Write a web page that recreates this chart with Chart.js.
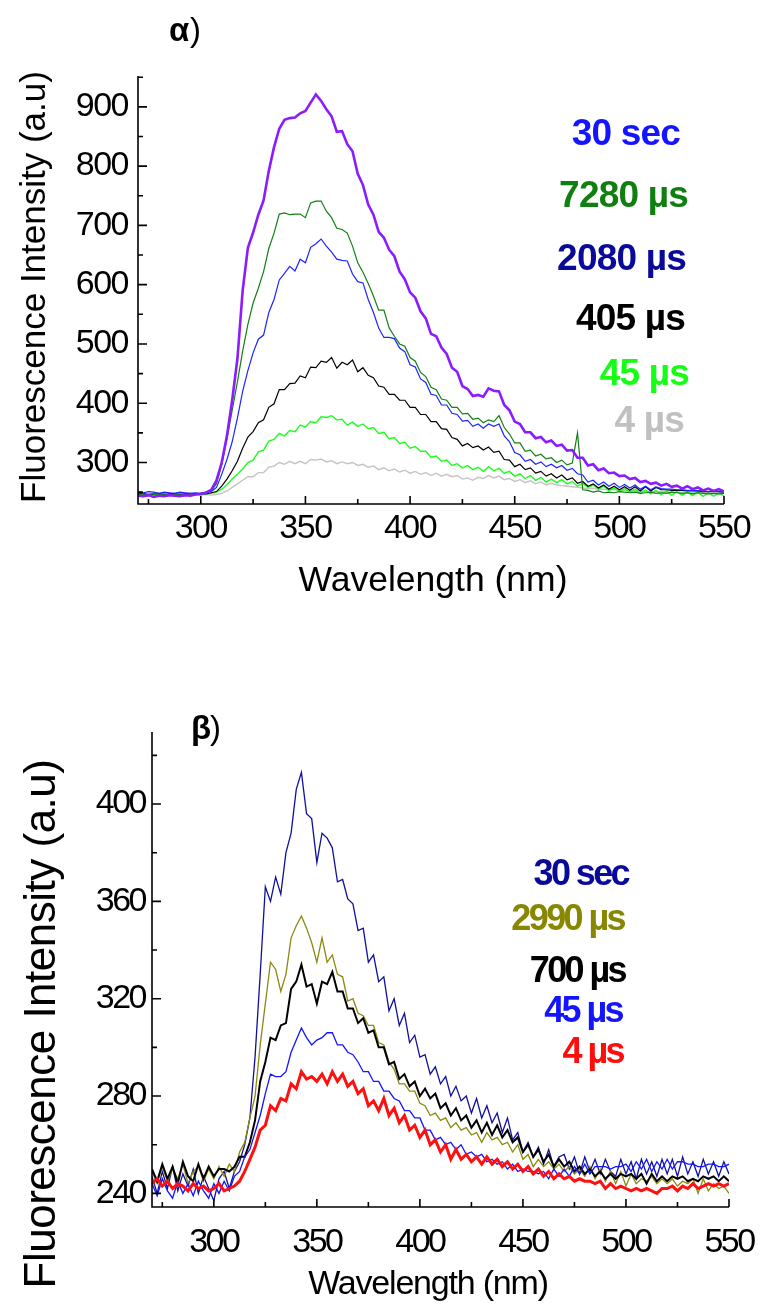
<!DOCTYPE html>
<html>
<head>
<meta charset="utf-8">
<script src="https://cdn.jsdelivr.net/npm/chart.js@4.4.1/dist/chart.umd.min.js"></script>
<style>
  html, body { margin: 0; padding: 0; background: #fff; }
  body { width: 760px; height: 1308px; position: relative; overflow: hidden; }
  .panel { position: absolute; left: 0; width: 760px; }
  #alpha { top: 0; height: 640px; }
  #beta { top: 640px; height: 668px; }
</style>
</head>
<body>
<div class="panel" id="alpha"><canvas id="chartA"></canvas></div>
<div class="panel" id="beta"><canvas id="chartB"></canvas></div>
<script>
const FONT = '"Liberation Sans", Arial, sans-serif';

// sampling grid of the spectra, nm (270 ... 550, 2.5 nm step)
const wavelengths = Array.from({length: 113}, (_, i) => 270 + i * 2.5);
const xTicks = [300, 350, 400, 450, 500, 550];
const xMinor = [275, 325, 375, 425, 475, 525];

// ---- panel α ----
const alphaLabels = ['30 sec', '7280 µs', '2080 µs', '405 µs', '45 µs', '4 µs'];
const alphaYTicks = [300, 400, 500, 600, 700, 800, 900];
const alphaYMinor = [250, 350, 450, 550, 650, 750, 850, 950];

const alpha30s = [
  244, 243, 245, 242, 244, 243, 245, 244, 243, 245,
  244, 246, 247, 249, 254, 270, 300, 345, 405, 475,
  590, 662, 688, 718, 742, 792, 832, 863, 878, 881,
  882, 889, 893, 907, 921, 910, 896, 884, 858, 859,
  837, 825, 787, 768, 735, 718, 689, 679, 659, 648,
  622, 609, 587, 578, 555, 543, 517, 513, 494, 483,
  460, 453, 429, 424, 412, 414, 411, 425, 421, 420,
  397, 388, 369, 365, 351, 351, 341, 343, 334, 337,
  328, 330, 320, 321, 308, 308, 295, 297, 287, 290,
  282, 283, 277, 278, 272, 274, 267, 269, 264, 266,
  261, 264, 259, 261, 256, 260, 255, 258, 253, 256,
  252, 255, 251
];
const alpha7280 = [
  246, 247, 245, 248, 246, 247, 245, 246, 247, 246,
  247, 246, 248, 249, 252, 264, 296, 340, 388, 436,
  488, 533, 569, 594, 622, 661, 687, 719, 721, 718,
  719, 719, 713, 738, 741, 741, 724, 713, 695, 693,
  687, 665, 637, 621, 602, 581, 557, 557, 527, 513,
  500, 496, 477, 471, 452, 445, 427, 423, 407, 405,
  393, 393, 382, 383, 373, 375, 367, 372, 369, 379,
  359, 348, 333, 333, 319, 321, 311, 314, 306, 308,
  300, 304, 296, 299, 350, 254, 253, 250, 252, 249,
  250, 249, 251, 250, 249, 250, 248, 249, 250, 248,
  249, 248, 250, 249, 248, 249, 247, 249, 248, 247,
  248, 247, 248
];
const alpha2080 = [
  250, 249, 251, 250, 248, 250, 249, 248, 250, 249,
  248, 249, 248, 250, 251, 258, 280, 305, 335, 375,
  420, 455, 485, 508, 515, 553, 575, 608, 619, 631,
  623, 643, 637, 663, 669, 677, 665, 655, 643, 641,
  640, 618, 605, 603, 575, 553, 527, 511, 511, 509,
  493, 487, 465, 461, 441, 435, 415, 413, 397, 397,
  383, 381, 370, 371, 361, 365, 358, 365, 361, 365,
  345, 335, 317, 313, 302, 305, 297, 301, 293, 297,
  291, 295, 287, 290, 281, 279, 267, 270, 262, 267,
  260, 265, 258, 263, 257, 262, 255, 260, 254, 259,
  256, 255, 255, 254, 254, 253, 253, 252, 252, 251,
  252, 251, 250
];
const alpha405 = [
  247, 248, 246, 247, 248, 246, 247, 248, 246, 247,
  248, 247, 248, 247, 249, 251, 260, 272, 286, 302,
  324, 343, 352, 367, 372, 393, 399, 423, 423, 433,
  434, 446, 443, 461, 460, 471, 469, 477, 459, 469,
  465, 473, 453, 460, 447, 443, 429, 427, 415, 415,
  405, 405, 393, 393, 381, 381, 369, 369, 357, 356,
  342, 339, 328, 332, 325, 328, 321, 326, 317, 319,
  305, 304, 293, 297, 288, 291, 282, 285, 277, 281,
  274, 279, 271, 274, 265, 268, 260, 264, 257, 262,
  255, 260, 254, 259, 253, 259, 252, 259, 252, 258,
  254, 254, 253, 253, 253, 252, 252, 252, 251, 251,
  251, 251, 250
];
const alpha45 = [
  246, 245, 247, 246, 245, 246, 247, 245, 246, 247,
  246, 247, 246, 247, 248, 250, 255, 262, 272, 280,
  289, 300, 304, 318, 321, 336, 339, 349, 345, 354,
  352, 363, 360, 369, 367, 377, 376, 379, 372, 373,
  363, 368, 361, 365, 357, 359, 349, 351, 340, 342,
  332, 334, 324, 327, 319, 319, 309, 311, 302, 304,
  295, 298, 291, 295, 288, 292, 285, 293, 286, 290,
  282, 285, 277, 281, 273, 278, 270, 275, 267, 272,
  266, 271, 264, 268, 260, 265, 258, 262, 255, 260,
  253, 257, 251, 256, 250, 255, 248, 254, 247, 253,
  246, 252, 245, 251, 245, 250, 244, 250, 243, 249,
  243, 248, 244
];
const alpha4 = [
  245, 246, 244, 245, 246, 244, 245, 246, 245, 244,
  245, 246, 245, 246, 245, 246, 248, 252, 258, 264,
  270, 276, 276, 283, 283, 292, 294, 300, 297, 302,
  298, 302, 298, 305, 304, 306, 301, 303, 298, 301,
  298, 300, 295, 297, 292, 294, 288, 291, 286, 289,
  284, 287, 282, 285, 280, 283, 278, 282, 277, 280,
  276, 278, 272, 274, 270, 275, 273, 278, 274, 277,
  271, 273, 268, 271, 266, 269, 264, 267, 262, 265,
  262, 261, 260, 259, 258, 257, 256, 256, 255, 255,
  254, 254, 253, 253, 252, 252, 252, 251, 251, 251,
  251, 250, 250, 250, 250, 249, 249, 249, 249, 248,
  248, 248, 248
];

// ---- panel β ----
const betaLabels = ['30 sec', '2990 µs', '700 µs', '45 µs', '4 µs'];
const betaYTicks = [240, 280, 320, 360, 400];
const betaYMinor = [260, 300, 340, 380, 420];

const beta30s = [
  247, 240, 249, 242, 251, 241, 248, 243, 250, 240,
  247, 242, 237, 246, 249, 242, 249, 253, 260, 271,
  296, 330, 366, 360, 370, 363, 380, 388, 406, 413,
  396, 394, 376, 388, 386, 382, 368, 369, 361, 359,
  348, 349, 335, 338, 327, 329, 315, 320, 309, 314,
  302, 305, 296, 297, 289, 292, 285, 288, 280, 284,
  278, 280, 273, 279, 271, 276, 269, 273, 265, 271,
  262, 265, 257, 261, 255, 259, 252, 258, 251, 255,
  256, 250, 255, 248, 255, 249, 254, 248, 254, 249,
  247, 254, 248, 253, 246, 254, 248, 253, 247, 254,
  248, 254, 247, 255, 248, 253, 247, 254, 248, 253,
  247, 253, 248
];
const beta2990 = [
  249, 244, 251, 245, 250, 246, 252, 244, 249, 251,
  245, 250, 246, 251, 247, 252, 249, 257, 261, 271,
  280, 301, 318, 335, 332, 323, 330, 345, 350, 354,
  349, 343, 335, 345, 335, 338, 330, 329, 319, 320,
  314, 313, 309, 309, 302, 301, 294, 291, 285, 285,
  282, 282, 277, 276, 272, 273, 270, 271, 267, 269,
  266, 267, 264, 265, 261, 265, 262, 263, 260, 261,
  257, 260, 254, 256, 251, 254, 251, 253, 250, 252,
  249, 251, 248, 250, 247, 251, 246, 250, 245, 249,
  244, 249, 243, 248, 244, 246, 245, 247, 244, 246,
  244, 246, 243, 245, 244, 246, 240, 246, 241, 244,
  242, 243, 240
];
const beta700 = [
  250, 245, 252, 246, 251, 244, 253, 247, 245, 252,
  246, 251, 247, 250, 250, 249, 251, 255, 255, 261,
  270, 286, 294, 304, 303, 309, 310, 324, 327, 334,
  325, 326, 318, 327, 326, 331, 323, 323, 316, 316,
  310, 312, 306, 307, 300, 300, 293, 294, 287, 289,
  284, 286, 280, 283, 279, 281, 275, 277, 272, 275,
  270, 272, 267, 270, 265, 269, 264, 268, 263, 266,
  261, 263, 257, 260, 255, 258, 253, 256, 251, 254,
  251, 253, 249, 251, 248, 250, 247, 249, 246, 248,
  246, 248, 247, 248, 246, 248, 244, 248, 245, 247,
  245, 247, 246, 247, 245, 246, 245, 247, 246, 247,
  245, 247, 245
];
const beta45 = [
  244, 239, 246, 241, 238, 245, 240, 244, 239, 245,
  241, 238, 244, 240, 245, 241, 247, 249, 255, 258,
  265, 272, 281, 289, 288, 288, 290, 298, 303, 308,
  304, 301, 303, 304, 306, 306, 301, 301, 298, 297,
  294, 290, 290, 286, 286, 282, 282, 279, 278, 274,
  274, 271, 271, 266, 266, 262, 263, 260, 261, 258,
  260, 256, 257, 255, 256, 253, 254, 252, 253, 250,
  252, 249, 250, 249, 249, 248, 249, 246, 250, 247,
  250, 247, 251, 248, 252, 248, 251, 251, 251, 250,
  251, 251, 252, 249, 253, 250, 254, 249, 253, 250,
  254, 250, 253, 253, 252, 252, 251, 251, 252, 252,
  251, 251, 252
];
const beta4 = [
  244, 246, 243, 245, 242, 244, 243, 241, 244, 242,
  243, 241, 242, 244, 241, 242, 243, 245, 249, 254,
  259, 266, 268, 276, 274, 279, 278, 285, 283, 290,
  287, 288, 286, 289, 285, 290, 286, 289, 284, 286,
  281, 283, 276, 278, 274, 279, 272, 275, 269, 272,
  266, 268, 263, 266, 260, 262, 257, 260, 254, 258,
  254, 256, 253, 255, 252, 255, 252, 254, 251, 253,
  250, 252, 249, 251, 248, 250, 247, 249, 246, 248,
  246, 247, 245, 246, 245, 245, 244, 245, 242, 244,
  242, 243, 242, 241, 242, 241, 242, 241, 240, 242,
  242, 243, 241, 243, 242, 244, 242, 243, 244, 243,
  244, 243, 244
];

function line(data, color, width) {
  return {
    data: data,
    borderColor: color,
    borderWidth: width,
    pointRadius: 0,
    fill: false,
    tension: 0
  };
}

// axes, inward tick marks and free text
const decor = {
  id: 'decor',
  beforeDraw(chart, args, opts) {
    chart.ctx.letterSpacing = opts.tickSpacing;
  },
  afterDraw(chart, args, opts) {
    const ctx = chart.ctx;
    const a = chart.chartArea;
    const x = chart.scales.x;
    const y = chart.scales.y;
    ctx.save();
    ctx.strokeStyle = '#000';
    ctx.lineWidth = 1.6;
    ctx.beginPath();
    ctx.moveTo(a.left, a.top);
    ctx.lineTo(a.left, a.bottom);
    ctx.lineTo(a.right, a.bottom);
    opts.yMajor.forEach(v => { const p = y.getPixelForValue(v); ctx.moveTo(a.left, p); ctx.lineTo(a.left + 9, p); });
    opts.yMinor.forEach(v => { const p = y.getPixelForValue(v); ctx.moveTo(a.left, p); ctx.lineTo(a.left + 5, p); });
    opts.xMajor.forEach(v => { const p = x.getPixelForValue(v); ctx.moveTo(p, a.bottom); ctx.lineTo(p, a.bottom - 8); });
    opts.xMinor.forEach(v => { const p = x.getPixelForValue(v); ctx.moveTo(p, a.bottom); ctx.lineTo(p, a.bottom - 5); });
    ctx.stroke();

    opts.texts.forEach(t => {
      ctx.save();
      ctx.font = t.font;
      ctx.fillStyle = t.color || '#000';
      ctx.letterSpacing = t.spacing || '0px';
      ctx.textAlign = t.align || 'left';
      ctx.textBaseline = t.baseline || 'middle';
      ctx.translate(t.x, t.y);
      if (t.rotate) ctx.rotate(-Math.PI / 2);
      ctx.fillText(t.text, 0, 0);
      ctx.restore();
    });
    ctx.restore();
  }
};

function scales(yMin, yMax, yTicks, yWidth, xHeight, xLineHeight, yPad) {
  return {
    x: {
      type: 'linear', min: 270, max: 550,
      grid: { display: false, drawTicks: false },
      border: { display: false },
      afterBuildTicks: s => { s.ticks = xTicks.map(v => ({ value: v })); },
      afterFit: s => { s.height = xHeight; },
      ticks: { color: '#000', font: { family: FONT, size: 34, lineHeight: xLineHeight }, padding: 2, maxRotation: 0, autoSkip: false }
    },
    y: {
      type: 'linear', min: yMin, max: yMax,
      grid: { display: false, drawTicks: false },
      border: { display: false },
      afterBuildTicks: s => { s.ticks = yTicks.map(v => ({ value: v })); },
      afterFit: s => { s.width = yWidth; },
      ticks: { color: '#000', font: { family: FONT, size: 34 }, padding: yPad, autoSkip: false }
    }
  };
}

new Chart(document.getElementById('chartA'), {
  type: 'line',
  data: {
    labels: wavelengths,
    datasets: [
      line(alpha30s, '#8a1cff', 2.6),
      line(alpha7280, '#138013', 1.2),
      line(alpha2080, '#1c24ff', 1.2),
      line(alpha405, '#000000', 1.2),
      line(alpha45, '#1cff1c', 1.4),
      line(alpha4, '#c4c4c4', 1.4)
    ]
  },
  options: {
    responsive: true,
    maintainAspectRatio: false,
    animation: false,
    events: [],
    layout: { padding: { top: 76, right: 36, left: 0, bottom: 0 } },
    scales: scales(230, 952, alphaYTicks, 138, 136, 1.35, 10),
    plugins: {
      legend: { display: false },
      tooltip: { enabled: false },
      decor: {
        tickSpacing: '-1.5px',
        yMajor: alphaYTicks, yMinor: alphaYMinor, xMajor: xTicks, xMinor: xMinor,
        texts: [
          { text: 'α', x: 169, y: 41, font: 'bold 33px ' + FONT, baseline: 'alphabetic' },
          { text: ')', x: 190, y: 41, font: '33px ' + FONT, baseline: 'alphabetic' },
          { text: 'Fluorescence Intensity (a.u)', x: 35, y: 287, font: '35px ' + FONT, align: 'center', rotate: true },
          { text: 'Wavelength (nm)', x: 433, y: 581, font: '35.5px ' + FONT, align: 'center' },
          { text: alphaLabels[0], x: 680, y: 135, font: 'bold 37px ' + FONT, align: 'right', color: '#1414ff', spacing: '-0.8px' },
          { text: alphaLabels[1], x: 688, y: 197, font: 'bold 37px ' + FONT, align: 'right', color: '#0f7f0f', spacing: '-0.8px' },
          { text: alphaLabels[2], x: 686, y: 260, font: 'bold 37px ' + FONT, align: 'right', color: '#0a0a9a', spacing: '-0.8px' },
          { text: alphaLabels[3], x: 685, y: 320, font: 'bold 37px ' + FONT, align: 'right', color: '#000000', spacing: '-0.8px' },
          { text: alphaLabels[4], x: 689, y: 375, font: 'bold 37px ' + FONT, align: 'right', color: '#14ff14', spacing: '-0.8px' },
          { text: alphaLabels[5], x: 684, y: 422, font: 'bold 37px ' + FONT, align: 'right', color: '#c0c0c0', spacing: '-0.8px' }
        ]
      }
    }
  },
  plugins: [decor]
});

new Chart(document.getElementById('chartB'), {
  type: 'line',
  data: {
    labels: wavelengths,
    datasets: [
      line(beta4, '#ff1010', 3),
      line(beta45, '#1414ff', 1.3),
      line(beta700, '#000000', 2),
      line(beta2990, '#8a8a10', 1.3),
      line(beta30s, '#10109c', 1.3)
    ]
  },
  options: {
    responsive: true,
    maintainAspectRatio: false,
    animation: false,
    events: [],
    layout: { padding: { top: 92, right: 31, left: 0, bottom: 0 } },
    scales: scales(234.4, 429.6, betaYTicks, 152, 101, 2.0, 7),
    plugins: {
      legend: { display: false },
      tooltip: { enabled: false },
      decor: {
        tickSpacing: '-2.5px',
        yMajor: betaYTicks, yMinor: betaYMinor, xMajor: xTicks, xMinor: xMinor,
        texts: [
          { text: 'β', x: 191, y: 99, font: 'bold 33px ' + FONT, baseline: 'alphabetic' },
          { text: ')', x: 210, y: 99, font: '33px ' + FONT, baseline: 'alphabetic' },
          { text: 'Fluorescence Intensity (a.u)', x: 43, y: 384, font: '44px ' + FONT, align: 'center', rotate: true, spacing: '-0.5px' },
          { text: 'Wavelength (nm)', x: 428, y: 645, font: '34px ' + FONT, align: 'center', spacing: '-1.2px' },
          { text: betaLabels[0], x: 628, y: 235, font: 'bold 36px ' + FONT, align: 'right', color: '#0a0a9a', spacing: '-2.6px' },
          { text: betaLabels[1], x: 624, y: 280, font: 'bold 36px ' + FONT, align: 'right', color: '#878700', spacing: '-2.6px' },
          { text: betaLabels[2], x: 625, y: 332, font: 'bold 36px ' + FONT, align: 'right', color: '#000000', spacing: '-2.6px' },
          { text: betaLabels[3], x: 622, y: 372, font: 'bold 36px ' + FONT, align: 'right', color: '#1414ff', spacing: '-2.6px' },
          { text: betaLabels[4], x: 623, y: 413, font: 'bold 36px ' + FONT, align: 'right', color: '#ff0d0d', spacing: '-2.6px' }
        ]
      }
    }
  },
  plugins: [decor]
});
</script>
</body>
</html>
